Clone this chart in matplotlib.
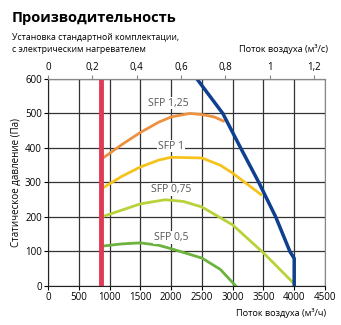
import matplotlib.pyplot as plt

plt.rcParams['font.family'] = ['Open Sans', 'DejaVu Sans']

# data
red_x = 865  # minimum airflow, m3/h

blue_x = [2420, 2840, 3130, 3425, 3700, 3930, 4000, 4000]
blue_y = [600, 500, 400, 300, 200, 100, 80, 0]

sfp125_x = [870, 1200, 1500, 1800, 2000, 2300, 2500, 2700, 2850]
sfp125_y = [368, 410, 445, 475, 490, 500, 497, 490, 478]

sfp1_x = [870, 1200, 1500, 1800, 2000, 2500, 2800, 3000, 3200, 3460]
sfp1_y = [282, 318, 345, 365, 373, 371, 350, 327, 300, 265]

sfp075_x = [900, 1200, 1500, 1900, 2200, 2500, 3000, 3500, 3980]
sfp075_y = [202, 220, 238, 250, 245, 229, 177, 96, 10]

sfp05_x = [900, 1200, 1500, 1800, 2000, 2500, 2800, 3050]
sfp05_y = [116, 122, 125, 118, 108, 81, 48, 0]

labels = ['SFP 1,25', 'SFP 1', 'SFP 0,75', 'SFP 0,5']
label_x = [1950, 2000, 2000, 2000]
label_y = [530, 405, 280, 140]

fig = plt.figure(figsize=(3.41, 3.25), dpi=100)
ax = fig.add_axes([0.141, 0.12, 0.812, 0.637])

ax.set_xlim(0, 4500)
ax.set_ylim(0, 600)
ax.set_xticks(range(0, 4501, 500))
ax.set_yticks(range(0, 601, 100))
ax.grid(True, color='#333333', linewidth=0.9)
ax.set_axisbelow(True)
ax.tick_params(labelsize=7, length=3, width=0.8, pad=1.5)
for s in ['top', 'right']:
    ax.spines[s].set_color('#888888')
ax.spines['left'].set_color('#222222')
ax.spines['bottom'].set_color('#222222')

ax.plot(sfp125_x, sfp125_y, color='#ec9140', lw=2)
ax.plot(sfp1_x, sfp1_y, color='#f6c21c', lw=2)
ax.plot(sfp075_x, sfp075_y, color='#b8d33a', lw=2)
ax.plot(sfp05_x, sfp05_y, color='#6cb33e', lw=2)
ax.axvline(red_x, color='#e03a55', lw=3.5)
ax.plot(blue_x, blue_y, color='#0f3f8f', lw=2.5)

for t, x, y in zip(labels, label_x, label_y):
    ax.text(x, y, t, fontsize=7.5, color='#555555', ha='center', va='center',
            bbox=dict(facecolor='white', edgecolor='none', pad=0.5))

ax.set_ylabel('Статическое давление (Па)', fontsize=7, labelpad=2)

# top axis in m3/s
top = ax.secondary_xaxis('top', functions=(lambda v: v / 3600, lambda v: v * 3600))
top.set_xticks([0, 0.2, 0.4, 0.6, 0.8, 1.0, 1.2])
top.set_xticklabels(['0', '0,2', '0,4', '0,6', '0,8', '1', '1,2'])
top.tick_params(labelsize=7, length=3, width=0.8, pad=1.5, color='#888888')
top.spines['top'].set_color('#888888')

fig.text(0.035, 0.945, 'Производительность', fontsize=10.5, fontweight='bold', va='center')
fig.text(0.035, 0.885, 'Установка стандартной комплектации,', fontsize=6.3, va='center')
fig.text(0.035, 0.848, 'с электрическим нагревателем', fontsize=6.3, va='center')
fig.text(0.962, 0.848, 'Поток воздуха (м³/с)', fontsize=6.6, ha='right', va='center')
fig.text(0.955, 0.038, 'Поток воздуха (м³/ч)', fontsize=6.6, ha='right', va='center')

fig.savefig('out.png', dpi=100)
